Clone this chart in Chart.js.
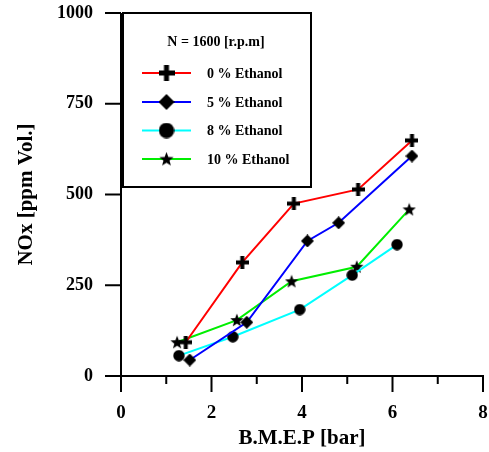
<!DOCTYPE html>
<html>
<head>
<meta charset="utf-8">
<script src="https://cdn.jsdelivr.net/npm/chart.js@4/dist/chart.umd.min.js"></script>
<style>
html,body{margin:0;padding:0;background:#fff;overflow:hidden;}
#wrap{width:489px;height:452px;overflow:hidden;}
</style>
</head>
<body>
<div id="wrap"><canvas id="c" width="492" height="452"></canvas></div>
<script>
// ---- data ----
const seriesNames = ['0 % Ethanol', '5 % Ethanol', '8 % Ethanol', '10 % Ethanol'];
const bmep0 = [1.43, 2.68, 3.82, 5.24, 6.43];
const nox0  = [93, 313, 475, 514, 649];
const bmep5 = [1.52, 2.78, 4.12, 4.81, 6.43];
const nox5  = [44, 148, 372, 422, 606];
const bmep8 = [1.28, 2.47, 3.95, 5.11, 6.10];
const nox8  = [56, 108, 183, 278, 362];
const bmep10 = [1.24, 2.56, 3.77, 5.21, 6.37];
const nox10  = [93, 154, 261, 301, 459];
const xTicks = [0, 2, 4, 6, 8];
const yTicks = [0, 250, 500, 750, 1000];
const legendTitle = 'N = 1600 [r.p.m]';
const xTitle = 'B.M.E.P [bar]';
const yTitle = 'NOx [ppm Vol.]';

const FONT = '"Liberation Serif", "Times New Roman", serif';

function makeMarker(kind, s) {
  const c = document.createElement('canvas');
  c.width = s; c.height = s;
  const g = c.getContext('2d');
  g.fillStyle = '#000';
  const m = s / 2;
  if (kind === 'plus') {
    const t = Math.round(s * 0.32);
    g.fillRect(0, m - t / 2, s, t);
    g.fillRect(m - t / 2, 0, t, s);
  } else if (kind === 'diamond') {
    g.beginPath();
    g.moveTo(m, 0); g.lineTo(s, m); g.lineTo(m, s); g.lineTo(0, m);
    g.closePath(); g.fill();
  } else if (kind === 'circle') {
    g.beginPath(); g.arc(m, m, m - 0.3, 0, Math.PI * 2); g.fill();
  } else if (kind === 'star') {
    g.beginPath();
    const R = m, r = m * 0.42;
    for (let i = 0; i < 10; i++) {
      const a = -Math.PI / 2 + i * Math.PI / 5;
      const rr = i % 2 === 0 ? R : r;
      const px = m + rr * Math.cos(a), py = m + 0.5 + rr * Math.sin(a);
      if (i === 0) g.moveTo(px, py); else g.lineTo(px, py);
    }
    g.closePath(); g.fill();
  }
  return c;
}
const kinds = ['plus', 'diamond', 'circle', 'star'];
const plotSizes = [13, 13, 12, 14];
const legSizes = [16, 16, 16, 15];
const colors = ['#ff0000', '#0000ff', '#00ffff', '#00ee00'];
const plotMarkers = kinds.map((k, i) => makeMarker(k, plotSizes[i]));
const legMarkers = kinds.map((k, i) => makeMarker(k, legSizes[i]));

const xs = [bmep0, bmep5, bmep8, bmep10];
const ys = [nox0, nox5, nox8, nox10];

const datasets = seriesNames.map((name, i) => ({
  label: name,
  data: xs[i].map((x, j) => ({ x: x, y: ys[i][j] })),
  borderColor: colors[i],
  borderWidth: 2,
  pointStyle: plotMarkers[i],
  pointRadius: 7,
  pointHoverRadius: 7,
  tension: 0,
  fill: false
}));

const axesPlugin = {
  id: 'axesPlugin',
  afterDraw(chart) {
    const ctx = chart.ctx;
    const xS = chart.scales.x, yS = chart.scales.y;
    const a = chart.chartArea;
    ctx.save();
    ctx.strokeStyle = '#000';
    ctx.lineWidth = 2;
    ctx.lineCap = 'butt';
    ctx.beginPath();
    ctx.moveTo(a.left, a.top); ctx.lineTo(a.left, a.bottom);
    ctx.moveTo(a.left, a.bottom); ctx.lineTo(a.right + 1, a.bottom);
    yTicks.forEach(v => {
      const p = yS.getPixelForValue(v);
      ctx.moveTo(a.left - 16, p); ctx.lineTo(a.left, p);
    });
    for (let v = 0; v <= 8; v++) {
      const p = xS.getPixelForValue(v);
      const len = (v % 2 === 0) ? 16 : 8;
      ctx.moveTo(p, a.bottom); ctx.lineTo(p, a.bottom + len);
    }
    ctx.stroke();

    const bx = 123, by = 13, bw = 188, bh = 174;
    ctx.fillStyle = '#fff';
    ctx.fillRect(bx, by, bw, bh);
    ctx.strokeRect(bx, by, bw, bh);
    ctx.fillStyle = '#000';
    ctx.font = 'bold 14px ' + FONT;
    ctx.textAlign = 'center';
    ctx.textBaseline = 'middle';
    ctx.fillText(legendTitle, 216, 42);
    const rows = [73, 102, 130.5, 159];
    ctx.textAlign = 'left';
    seriesNames.forEach((name, i) => {
      const y = rows[i];
      ctx.strokeStyle = colors[i];
      ctx.lineWidth = 2;
      ctx.beginPath();
      ctx.moveTo(142, y); ctx.lineTo(191, y);
      ctx.stroke();
      const s = legSizes[i];
      ctx.drawImage(legMarkers[i], 166.5 - s / 2, y - s / 2);
      ctx.fillStyle = '#000';
      ctx.fillText(name, 207, y + 1);
    });
    ctx.restore();
  }
};

new Chart(document.getElementById('c'), {
  type: 'line',
  data: { datasets: datasets },
  options: {
    responsive: false,
    devicePixelRatio: 1,
    animation: false,
    events: [],
    layout: { padding: { top: 13, right: 6, left: 0, bottom: 0 } },
    plugins: { legend: { display: false }, tooltip: { enabled: false } },
    scales: {
      x: {
        type: 'linear', min: 0, max: 8,
        afterFit(s) { s.height = 76; s.paddingLeft = 0; s.paddingRight = 0; },
        afterBuildTicks(s) { s.ticks = xTicks.map(v => ({ value: v })); },
        grid: { display: false, drawTicks: true, tickLength: 26 },
        border: { display: false },
        ticks: { color: '#000', font: { family: FONT, size: 19, weight: 'bold' }, padding: 0, maxRotation: 0,
                 callback: v => String(v) },
        title: { display: true, text: xTitle, color: '#000', font: { family: FONT, size: 21, weight: 'bold' }, padding: { top: 0, bottom: 1 } }
      },
      y: {
        type: 'linear', min: 0, max: 1000,
        afterFit(s) { s.width = 121; s.paddingTop = 0; s.paddingBottom = 0; },
        afterBuildTicks(s) { s.ticks = yTicks.map(v => ({ value: v })); },
        grid: { display: false, drawTicks: true, tickLength: 28 },
        border: { display: false },
        ticks: { color: '#000', font: { family: FONT, size: 18, weight: 'bold' }, padding: 0,
                 callback: v => String(v) },
        title: { display: true, text: yTitle, color: '#000', font: { family: FONT, size: 21, weight: 'bold' }, padding: { top: 14, bottom: 0 } }
      }
    }
  },
  plugins: [axesPlugin]
});
</script>
</body>
</html>
